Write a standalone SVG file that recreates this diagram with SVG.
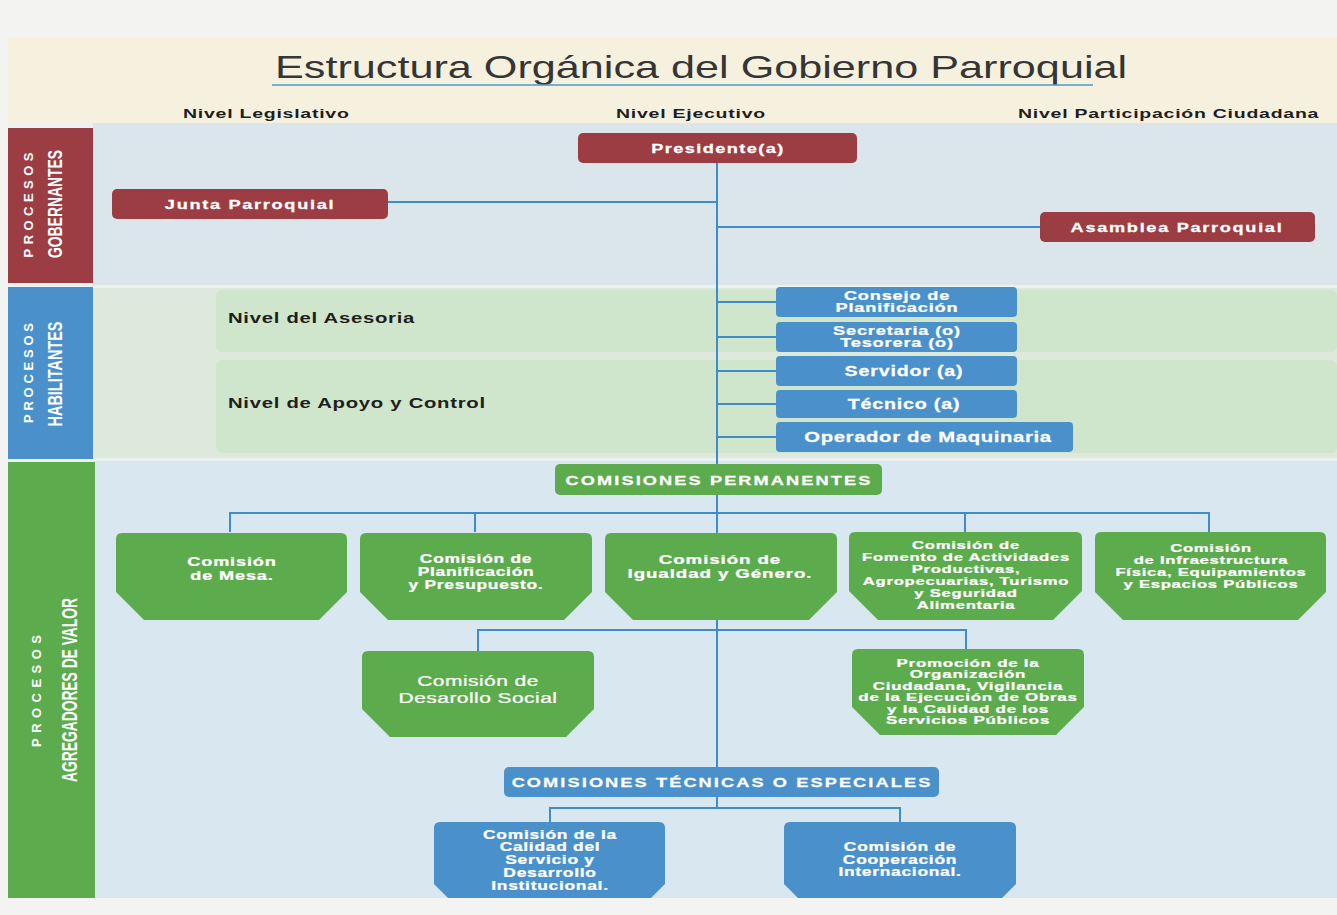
<svg xmlns="http://www.w3.org/2000/svg" width="1337" height="915" viewBox="0 0 1337 915">
<style>
text{font-family:"Liberation Sans",Arial,Helvetica,sans-serif}
.w{fill:#ffffff;font-weight:bold;text-anchor:middle;stroke:#ffffff;stroke-width:0.25}
.h{fill:#1e1e1e;font-weight:bold}
.side{fill:#ffffff;font-weight:bold;text-anchor:middle}
.red{fill:#9c3d44}
.blue{fill:#4a91cb}
.green{fill:#5cab4c}
.conn line{stroke:#3d8dca;stroke-width:2;fill:none}
</style>
<rect x="0" y="0" width="1337" height="915" fill="#f3f3f1"/>
<!-- title band -->
<rect x="8" y="37" width="1329" height="86" fill="#f6f1df"/>
<rect x="8" y="123" width="1329" height="775" fill="#ecf1f1"/>
<!-- section backgrounds -->
<rect x="93" y="123" width="1244" height="162" fill="#dbe6ec"/>
<rect x="93" y="288" width="1244" height="170" fill="#dde9dc"/>
<rect x="216" y="290" width="1121" height="62" rx="6" fill="#cfe6cc"/>
<rect x="216" y="360" width="1121" height="93" rx="6" fill="#cfe6cc"/>
<rect x="93" y="461" width="1244" height="437" fill="#d9e7f1"/>
<!-- sidebars -->
<g id="side-gobernantes">
<rect x="8" y="128" width="85" height="155" class="red"/>
<text class="side" transform="translate(33,205) rotate(-90)" font-size="13" textLength="105" lengthAdjust="spacing">PROCESOS</text>
<text class="side" transform="translate(62,204) rotate(-90)" font-size="21" textLength="108" lengthAdjust="spacingAndGlyphs">GOBERNANTES</text>
</g>
<g id="side-habilitantes">
<rect x="8" y="287" width="85" height="172" class="blue"/>
<text class="side" transform="translate(33,373) rotate(-90)" font-size="13" textLength="100" lengthAdjust="spacing">PROCESOS</text>
<text class="side" transform="translate(62,374) rotate(-90)" font-size="21" textLength="105" lengthAdjust="spacingAndGlyphs">HABILITANTES</text>
</g>
<g id="side-agregadores">
<rect x="8" y="462" width="87" height="436" class="green"/>
<text class="side" transform="translate(41,691) rotate(-90)" font-size="13" textLength="112" lengthAdjust="spacing">PROCESOS</text>
<text class="side" transform="translate(77,690) rotate(-90)" font-size="22" textLength="184" lengthAdjust="spacingAndGlyphs">AGREGADORES DE VALOR</text>
</g>
<!-- title and headers -->
<g id="title">
<text transform="translate(275,0) scale(1.35,1)" x="0" y="78" font-size="32" fill="#353535">Estructura Orgánica del Gobierno Parroquial</text>
<line x1="272" y1="85" x2="1093" y2="85" stroke="#4a9ad0" stroke-width="1.5"/>
</g>
<g id="headers">
<text class="h" transform="translate(183,0) scale(1.5,1)" x="0" y="118" font-size="13" letter-spacing="0.5">Nivel Legislativo</text>
<text class="h" transform="translate(616,0) scale(1.5,1)" x="0" y="118" font-size="13" letter-spacing="0.5">Nivel Ejecutivo</text>
<text class="h" transform="translate(1018,0) scale(1.5,1)" x="0" y="118" font-size="13" letter-spacing="0.5">Nivel Participación Ciudadana</text>
<text class="h" transform="translate(228,0) scale(1.45,1)" x="0" y="323" font-size="14" letter-spacing="0.5">Nivel del Asesoria</text>
<text class="h" transform="translate(228,0) scale(1.45,1)" x="0" y="408" font-size="14" letter-spacing="0.5">Nivel de Apoyo y Control</text>
</g>
<!-- connectors -->
<g id="connectors" class="conn">
<line x1="717" y1="162" x2="717" y2="767"/>
<line x1="388" y1="202" x2="717" y2="202"/>
<line x1="717" y1="227" x2="1040" y2="227"/>
<line x1="717" y1="302" x2="776" y2="302"/>
<line x1="717" y1="337" x2="776" y2="337"/>
<line x1="717" y1="371" x2="776" y2="371"/>
<line x1="717" y1="404" x2="776" y2="404"/>
<line x1="717" y1="437" x2="776" y2="437"/>
<line x1="230" y1="513" x2="1209" y2="513"/>
<line x1="230" y1="512" x2="230" y2="532"/>
<line x1="475" y1="512" x2="475" y2="532"/>
<line x1="965" y1="512" x2="965" y2="532"/>
<line x1="1209" y1="512" x2="1209" y2="532"/>
<line x1="478" y1="630" x2="966" y2="630"/>
<line x1="478" y1="629" x2="478" y2="651"/>
<line x1="966" y1="629" x2="966" y2="649"/>
<line x1="717" y1="797" x2="717" y2="808"/>
<line x1="550" y1="808" x2="900" y2="808"/>
<line x1="550" y1="807" x2="550" y2="822"/>
<line x1="900" y1="807" x2="900" y2="822"/>
</g>
<!-- gobernantes -->
<g id="presidente">
<rect x="578" y="133" width="279" height="30" rx="5" class="red"/>
<text class="w" transform="translate(718,0) scale(1.4,1)" x="0" y="153" font-size="13" letter-spacing="1">Presidente(a)</text>
</g>
<g id="junta">
<rect x="112" y="189" width="276" height="30" rx="5" class="red"/>
<text class="w" transform="translate(250,0) scale(1.4,1)" x="0" y="209" font-size="13" letter-spacing="1.2">Junta Parroquial</text>
</g>
<g id="asamblea">
<rect x="1040" y="212" width="275" height="30" rx="5" class="red"/>
<text class="w" transform="translate(1177,0) scale(1.4,1)" x="0" y="232" font-size="13" letter-spacing="1.2">Asamblea Parroquial</text>
</g>
<!-- habilitantes -->
<g id="consejo">
<rect x="776" y="287" width="241" height="30" rx="4" class="blue"/>
<text class="w" transform="translate(897,0) scale(1.45,1)" font-size="12.5" letter-spacing="0.6"><tspan x="0" y="300">Consejo de</tspan><tspan x="0" y="312.5">Planificación</tspan></text>
</g>
<g id="secretaria">
<rect x="776" y="322" width="241" height="30" rx="4" class="blue"/>
<text class="w" transform="translate(897,0) scale(1.45,1)" font-size="12.5" letter-spacing="0.6"><tspan x="0" y="335">Secretaria (o)</tspan><tspan x="0" y="347.5">Tesorera (o)</tspan></text>
</g>
<g id="servidor">
<rect x="776" y="356" width="241" height="30" rx="4" class="blue"/>
<text class="w" transform="translate(904,0) scale(1.4,1)" x="0" y="376" font-size="14" letter-spacing="0.6">Servidor (a)</text>
</g>
<g id="tecnico">
<rect x="776" y="390" width="241" height="28" rx="4" class="blue"/>
<text class="w" transform="translate(904,0) scale(1.4,1)" x="0" y="409" font-size="14" letter-spacing="0.6">Técnico (a)</text>
</g>
<g id="operador">
<rect x="776" y="422" width="297" height="30" rx="4" class="blue"/>
<text class="w" transform="translate(928,0) scale(1.35,1)" x="0" y="442" font-size="15" letter-spacing="0.5">Operador de Maquinaria</text>
</g>
<!-- agregadores -->
<g id="permanentes">
<rect x="555" y="464" width="327" height="31" rx="5" class="green"/>
<text class="w" transform="translate(719,0) scale(1.4,1)" x="0" y="485" font-size="13" letter-spacing="1.5">COMISIONES PERMANENTES</text>
</g>
<g id="mesa">
<path class="green" d="M116,539 Q116,533 122,533 H341 Q347,533 347,539 V592 L319,620 H144 L116,592 Z"/>
<text class="w" transform="translate(232,0) scale(1.45,1)" font-size="12.5" letter-spacing="0.6"><tspan x="0" y="566">Comisión</tspan><tspan x="0" y="580">de Mesa.</tspan></text>
</g>
<g id="planificacion">
<path class="green" d="M360,539 Q360,533 366,533 H586 Q592,533 592,539 V592 L564,620 H388 L360,592 Z"/>
<text class="w" transform="translate(476,0) scale(1.45,1)" font-size="12" letter-spacing="0.5"><tspan x="0" y="563">Comisión de</tspan><tspan x="0" y="576">Planificación</tspan><tspan x="0" y="589">y Presupuesto.</tspan></text>
</g>
<g id="igualdad">
<path class="green" d="M605,539 Q605,533 611,533 H831 Q837,533 837,539 V592 L809,620 H633 L605,592 Z"/>
<text class="w" transform="translate(720,0) scale(1.5,1)" font-size="12.5" letter-spacing="0.6"><tspan x="0" y="564">Comisión de</tspan><tspan x="0" y="578">Igualdad y Género.</tspan></text>
</g>
<g id="fomento">
<path class="green" d="M849,538 Q849,532 855,532 H1076 Q1082,532 1082,538 V591 L1053,620 H878 L849,591 Z"/>
<text class="w" transform="translate(966,0) scale(1.45,1)" font-size="11.5" letter-spacing="0.5"><tspan x="0" y="549">Comisión  de</tspan><tspan x="0" y="561">Fomento de Actividades</tspan><tspan x="0" y="573">Productivas,</tspan><tspan x="0" y="585">Agropecuarias,  Turismo</tspan><tspan x="0" y="597">y Seguridad</tspan><tspan x="0" y="609">Alimentaria</tspan></text>
</g>
<g id="infraestructura">
<path class="green" d="M1095,538 Q1095,532 1101,532 H1320 Q1326,532 1326,538 V592 L1298,620 H1123 L1095,592 Z"/>
<text class="w" transform="translate(1211,0) scale(1.45,1)" font-size="11.5" letter-spacing="0.5"><tspan x="0" y="552">Comisión</tspan><tspan x="0" y="564">de Infraestructura</tspan><tspan x="0" y="576">Física, Equipamientos</tspan><tspan x="0" y="588">y Espacios Públicos</tspan></text>
</g>
<g id="desarrollo-social">
<path class="green" d="M362,657 Q362,651 368,651 H588 Q594,651 594,657 V709 L566,737 H390 L362,709 Z"/>
<text class="w" transform="translate(478,0) scale(1.45,1)" font-size="14.5" style="font-weight:normal" letter-spacing="0.3"><tspan x="0" y="686">Comisión de</tspan><tspan x="0" y="703">Desarollo Social</tspan></text>
</g>
<g id="promocion">
<path class="green" d="M852,655 Q852,649 858,649 H1078 Q1084,649 1084,655 V707 L1056,735 H880 L852,707 Z"/>
<text class="w" transform="translate(968,0) scale(1.5,1)" font-size="11.3" letter-spacing="0.5"><tspan x="0" y="667">Promoción de la</tspan><tspan x="0" y="678.5">Organización</tspan><tspan x="0" y="690">Ciudadana, Vigilancia</tspan><tspan x="0" y="701.5">de la Ejecución de Obras</tspan><tspan x="0" y="713">y la Calidad de los</tspan><tspan x="0" y="724.5">Servicios Públicos</tspan></text>
</g>
<g id="tecnicas">
<rect x="504" y="767" width="435" height="30" rx="5" class="blue"/>
<text class="w" transform="translate(722,0) scale(1.4,1)" x="0" y="787" font-size="13" letter-spacing="1.5">COMISIONES TÉCNICAS O ESPECIALES</text>
</g>
<g id="calidad">
<path class="blue" d="M434,828 Q434,822 440,822 H659 Q665,822 665,828 V884 L639,910 H460 L434,884 Z"/>
<text class="w" transform="translate(550,0) scale(1.45,1)" font-size="12" letter-spacing="0.5"><tspan x="0" y="839">Comisión de la</tspan><tspan x="0" y="851.5">Calidad del</tspan><tspan x="0" y="864.5">Servicio y</tspan><tspan x="0" y="877">Desarrollo</tspan><tspan x="0" y="890">Institucional.</tspan></text>
</g>
<g id="cooperacion">
<path class="blue" d="M784,828 Q784,822 790,822 H1010 Q1016,822 1016,828 V884 L990,910 H810 L784,884 Z"/>
<text class="w" transform="translate(900,0) scale(1.45,1)" font-size="12" letter-spacing="0.5"><tspan x="0" y="851">Comisión de</tspan><tspan x="0" y="864">Cooperación</tspan><tspan x="0" y="876">Internacional.</tspan></text>
</g>
<rect x="0" y="898" width="1337" height="17" fill="#f3f3f1"/>
</svg>
